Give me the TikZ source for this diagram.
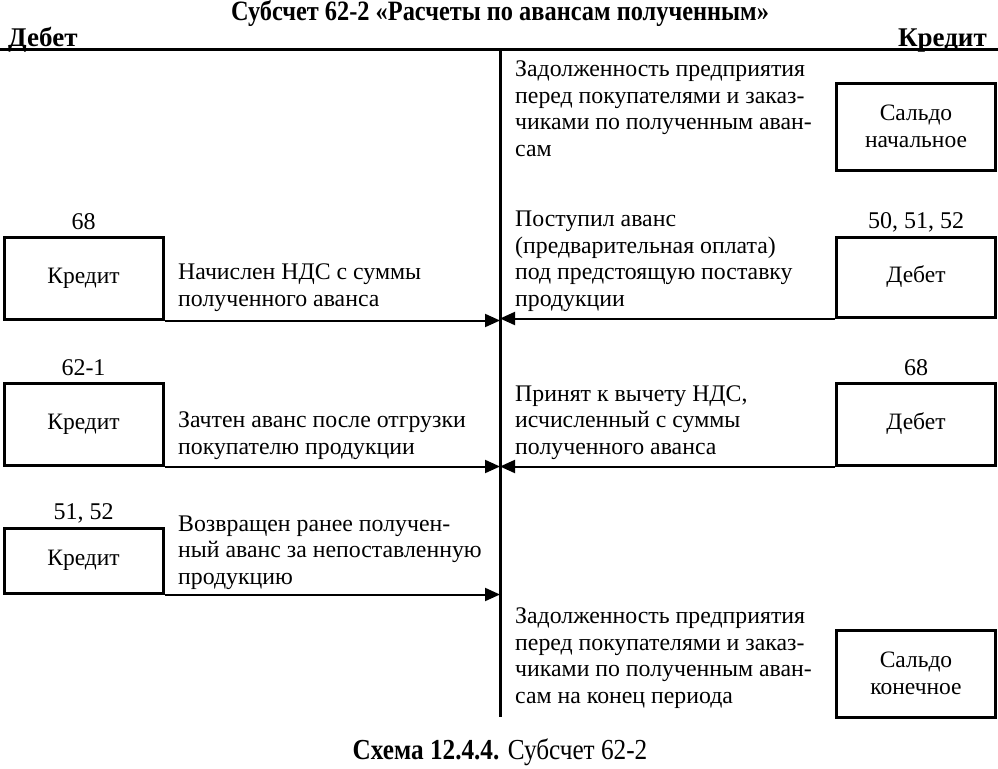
\documentclass[tikz,border=0pt]{standalone}
\usepackage{fontspec}
\setmainfont{Liberation Serif}
\newfontfamily\waski[FakeStretch=0.87]{Liberation Serif}
\usetikzlibrary{arrows.meta}
\begin{document}
\begin{tikzpicture}[x=1pt,y=-1pt,
  konto/.style={draw=black,line width=3pt,minimum width=159pt,inner sep=0pt,
    align=center,font=\fontsize{23.5}{26.5}\selectfont},
  numer/.style={font=\fontsize{24}{26.5}\selectfont,inner sep=0pt,label distance=6pt},
  opis/.style={anchor=base west,inner sep=0pt,align=left,font=\fontsize{23.8}{26.5}\selectfont},
  naglowek/.style={inner sep=0pt,font=\fontsize{27}{30}\selectfont\bfseries},
  strzalka/.style={line width=2pt,-{Triangle[length=15pt,width=13pt]}}]
\useasboundingbox (0,0) rectangle (998,768);
% os rachunku
\coordinate (osTop) at (500,50);
\coordinate (osBot) at (500,717);
\coordinate (linL) at (0,50);
\coordinate (linR) at (998,50);
\draw[line width=3pt] (linL) -- (linR);
\draw[line width=3pt] (osTop) -- (osBot);
\node[inner sep=0pt,anchor=base,font=\fontsize{28}{30}\waski\bfseries] (tytul) at (500,21) {Субсчет 62-2 «Расчеты по авансам полученным»};
\node[naglowek,anchor=base west] (debet) at (8,47) {Дебет};
\node[naglowek,anchor=base east] (kredyt) at (987,47) {Кредит};
% saldo poczatkowe
\node[opis] (sPocz) at (515,156) {Задолженность предприятия\\перед покупателями и заказ-\\чиками по полученным аван-\\сам};
\node[konto,minimum height=87pt] (saldoPocz) at (916,126.5) {Сальдо\\начальное};
% obroty - debet
\node[konto,minimum height=82pt,label={[numer]above:68}] (kr68) at (83.5,278) {Кредит};
\node[opis] (o1) at (178,306) {Начислен НДС с суммы\\полученного аванса};
\node[konto,minimum height=82pt,label={[numer]above:62-1}] (kr621) at (83.5,424) {Кредит};
\node[opis] (o2) at (178,454) {Зачтен аванс после отгрузки\\покупателю продукции};
\node[konto,minimum height=65pt,label={[numer,label distance=3pt]above:{51, 52}}] (kr5152) at (83.5,560.5) {Кредит};
\node[opis] (o3) at (178,584) {Возвращен ранее получен-\\ный аванс за непоставленную\\продукцию};
% obroty - kredyt
\node[konto,minimum height=80pt,label={[numer,label distance=3pt]above:{50, 51, 52}}] (db505152) at (916,277) {Дебет};
\node[opis] (o4) at (515,306) {Поступил аванс\\(предварительная оплата)\\под предстоящую поставку\\продукции};
\node[konto,minimum height=82pt,label={[numer]above:68}] (db68) at (916,424) {Дебет};
\node[opis] (o5) at (515,454) {Принят к вычету НДС,\\исчисленный с суммы\\полученного аванса};
% saldo koncowe
\node[opis] (sKon) at (515,703) {Задолженность предприятия\\перед покупателями и заказ-\\чиками по полученным аван-\\сам на конец периода};
\node[konto,minimum height=87pt] (saldoKon) at (916,673.5) {Сальдо\\конечное};
% strzalki
\draw[strzalka] (kr68.south east) -- (kr68.south east -| osTop);
\draw[strzalka] (kr621.south east) -- (kr621.south east -| osTop);
\draw[strzalka] (kr5152.south east) -- (kr5152.south east -| osTop);
\draw[strzalka] (db505152.south west) -- (db505152.south west -| osTop);
\draw[strzalka] (db68.south west) -- (db68.south west -| osTop);
% podpis
\node[inner sep=0pt,anchor=base,font=\fontsize{29}{30}\waski] (podpis) at (500,759) {\textbf{Схема 12.4.4.} Субсчет 62-2};
\end{tikzpicture}
\end{document}
